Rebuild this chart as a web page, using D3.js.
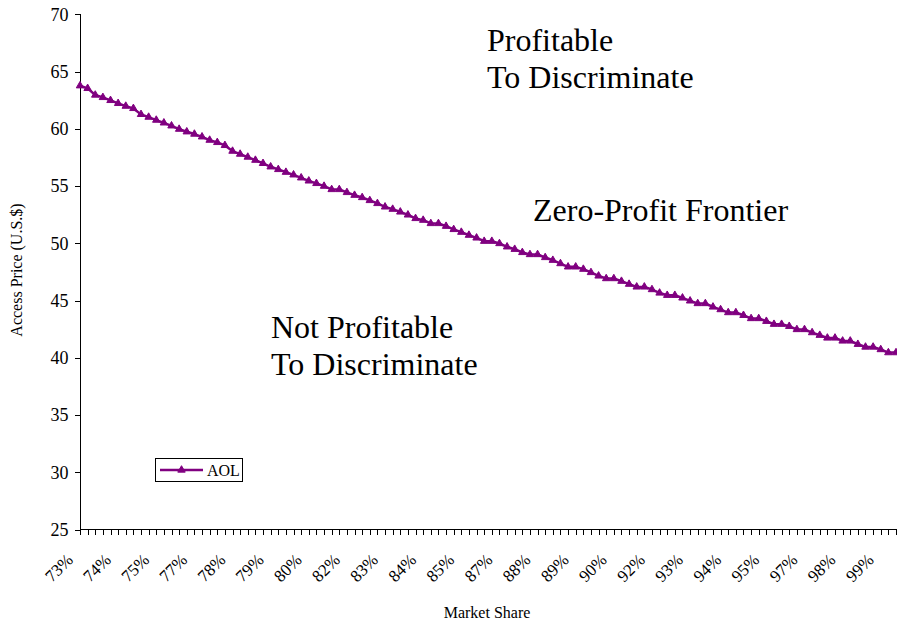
<!DOCTYPE html>
<html>
<head>
<meta charset="utf-8">
<script src="https://cdn.jsdelivr.net/npm/d3@7"></script>
<style>
  html, body { margin: 0; padding: 0; background: #fff; }
  svg { display: block; }
</style>
</head>
<body>
<svg id="chart" width="897" height="622"></svg>
<script>
// ---- data ----
const seriesName = "AOL";
const prices = [
  63.76, 63.53, 62.95, 62.74, 62.48, 62.22, 61.98, 61.78, 61.26, 61.02,
  60.76, 60.52, 60.26, 59.97, 59.74, 59.54, 59.30, 59.01, 58.81, 58.55,
  58.05, 57.79, 57.53, 57.26, 56.98, 56.68, 56.45, 56.21, 55.98, 55.72,
  55.45, 55.23, 54.99, 54.70, 54.70, 54.44, 54.20, 54.00, 53.74, 53.48,
  53.18, 52.98, 52.74, 52.48, 52.17, 52.02, 51.73, 51.73, 51.49, 51.21,
  50.97, 50.71, 50.47, 50.18, 50.18, 49.98, 49.69, 49.48, 49.20, 49.02,
  49.02, 48.76, 48.52, 48.23, 47.94, 47.94, 47.74, 47.45, 47.15, 46.92,
  46.92, 46.69, 46.43, 46.19, 46.19, 45.96, 45.66, 45.46, 45.46, 45.23,
  44.97, 44.74, 44.74, 44.44, 44.21, 43.95, 43.95, 43.71, 43.43, 43.43,
  43.19, 42.93, 42.93, 42.75, 42.47, 42.47, 42.20, 41.97, 41.73, 41.73,
  41.47, 41.47, 41.18, 40.94, 40.94, 40.72, 40.45, 40.45
];
const tickLabels = ["73%","74%","75%","77%","78%","79%","80%","82%","83%","84%","85%",
  "87%","88%","89%","90%","92%","93%","94%","95%","97%","98%","99%"];
const labelEvery = 5;
const yTicks = [25, 30, 35, 40, 45, 50, 55, 60, 65, 70];
const annotations = [
  { lines: ["Profitable", "To Discriminate"], x: 487, y: 51 },
  { lines: ["Zero-Profit Frontier"], x: 533, y: 221 },
  { lines: ["Not Profitable", "To Discriminate"], x: 271, y: 338 }
];

// ---- layout ----
const FONT = "'Liberation Serif', 'Times New Roman', Times, serif";
const svg = d3.select("#chart");
const color = "#800080";
const x0 = 80, x1 = 896, yTop = 14.3, yBot = 529.5;

const idx = d3.range(prices.length);
const x = d3.scalePoint().domain(idx).range([x0, x1]);
const y = d3.scaleLinear().domain([25, 70]).range([yBot, yTop]);

// y axis
const yAxis = svg.append("g")
  .attr("transform", `translate(${x0 - 0.5},0)`)
  .attr("font-family", null)
  .call(d3.axisLeft(y).tickValues(yTicks).tickSize(5).tickPadding(6));
yAxis.attr("font-family", FONT).attr("font-size", 18);
yAxis.selectAll("path, line").attr("stroke", "#000").attr("stroke-width", 1).attr("shape-rendering", "crispEdges");
yAxis.selectAll("text").style("font-family", FONT).style("font-size", "18px").attr("fill", "#000");

// x axis
const xAxis = svg.append("g")
  .attr("transform", `translate(0,${yBot})`)
  .call(d3.axisBottom(x).tickSize(5).tickSizeOuter(0).tickFormat(() => ""));
xAxis.select("path").attr("d", `M${x0 - 0.5},0H${x1 + 1}`);
xAxis.selectAll("path, line").attr("stroke", "#000").attr("stroke-width", 1).attr("shape-rendering", "crispEdges");

// rotated x labels
svg.append("g").selectAll("text")
  .data(tickLabels)
  .join("text")
  .attr("text-anchor", "end")
  .style("font-family", FONT)
  .style("font-size", "17px")
  .attr("transform", (d, i) => `translate(${x(i * labelEvery) - 6},561) rotate(-45)`)
  .text(d => d);

// axis titles
svg.append("text")
  .attr("x", 487).attr("y", 618)
  .attr("text-anchor", "middle")
  .style("font-family", FONT)
  .style("font-size", "16px")
  .text("Market Share");
svg.append("text")
  .attr("transform", "translate(22,270) rotate(-90)")
  .attr("text-anchor", "middle")
  .style("font-family", FONT)
  .style("font-size", "16px")
  .text("Access Price (U.S.$)");

// line
const line = d3.line().x((d, i) => x(i)).y(d => y(d));
svg.append("path")
  .datum(prices)
  .attr("fill", "none")
  .attr("stroke", color)
  .attr("stroke-width", 2.5)
  .attr("stroke-linejoin", "round")
  .attr("d", line);

const tri = d3.symbol().type(d3.symbolTriangle).size(24);
svg.append("g").selectAll("path")
  .data(prices)
  .join("path")
  .attr("transform", (d, i) => `translate(${x(i)},${y(d)})`)
  .attr("d", tri)
  .attr("fill", color)
  .attr("stroke", color)
  .attr("stroke-width", 1);

// annotations
annotations.forEach(a => {
  a.lines.forEach((t, k) => {
    svg.append("text")
      .attr("x", a.x).attr("y", a.y + k * 37)
      .style("font-family", FONT)
      .style("font-size", "32px")
      .text(t);
  });
});

// legend
const lg = svg.append("g").attr("transform", "translate(155,458)");
lg.append("rect").attr("x", 0.5).attr("y", 0.5).attr("width", 87).attr("height", 23)
  .attr("fill", "#fff").attr("stroke", "#000").attr("stroke-width", 1);
lg.append("line").attr("x1", 5).attr("x2", 48).attr("y1", 12).attr("y2", 12)
  .attr("stroke", color).attr("stroke-width", 2.5);
lg.append("path").attr("transform", "translate(26.5,12)").attr("d", tri)
  .attr("fill", color).attr("stroke", color);
lg.append("text").attr("x", 52).attr("y", 17.5)
  .style("font-family", FONT).style("font-size", "16px").text(seriesName);
</script>
</body>
</html>
